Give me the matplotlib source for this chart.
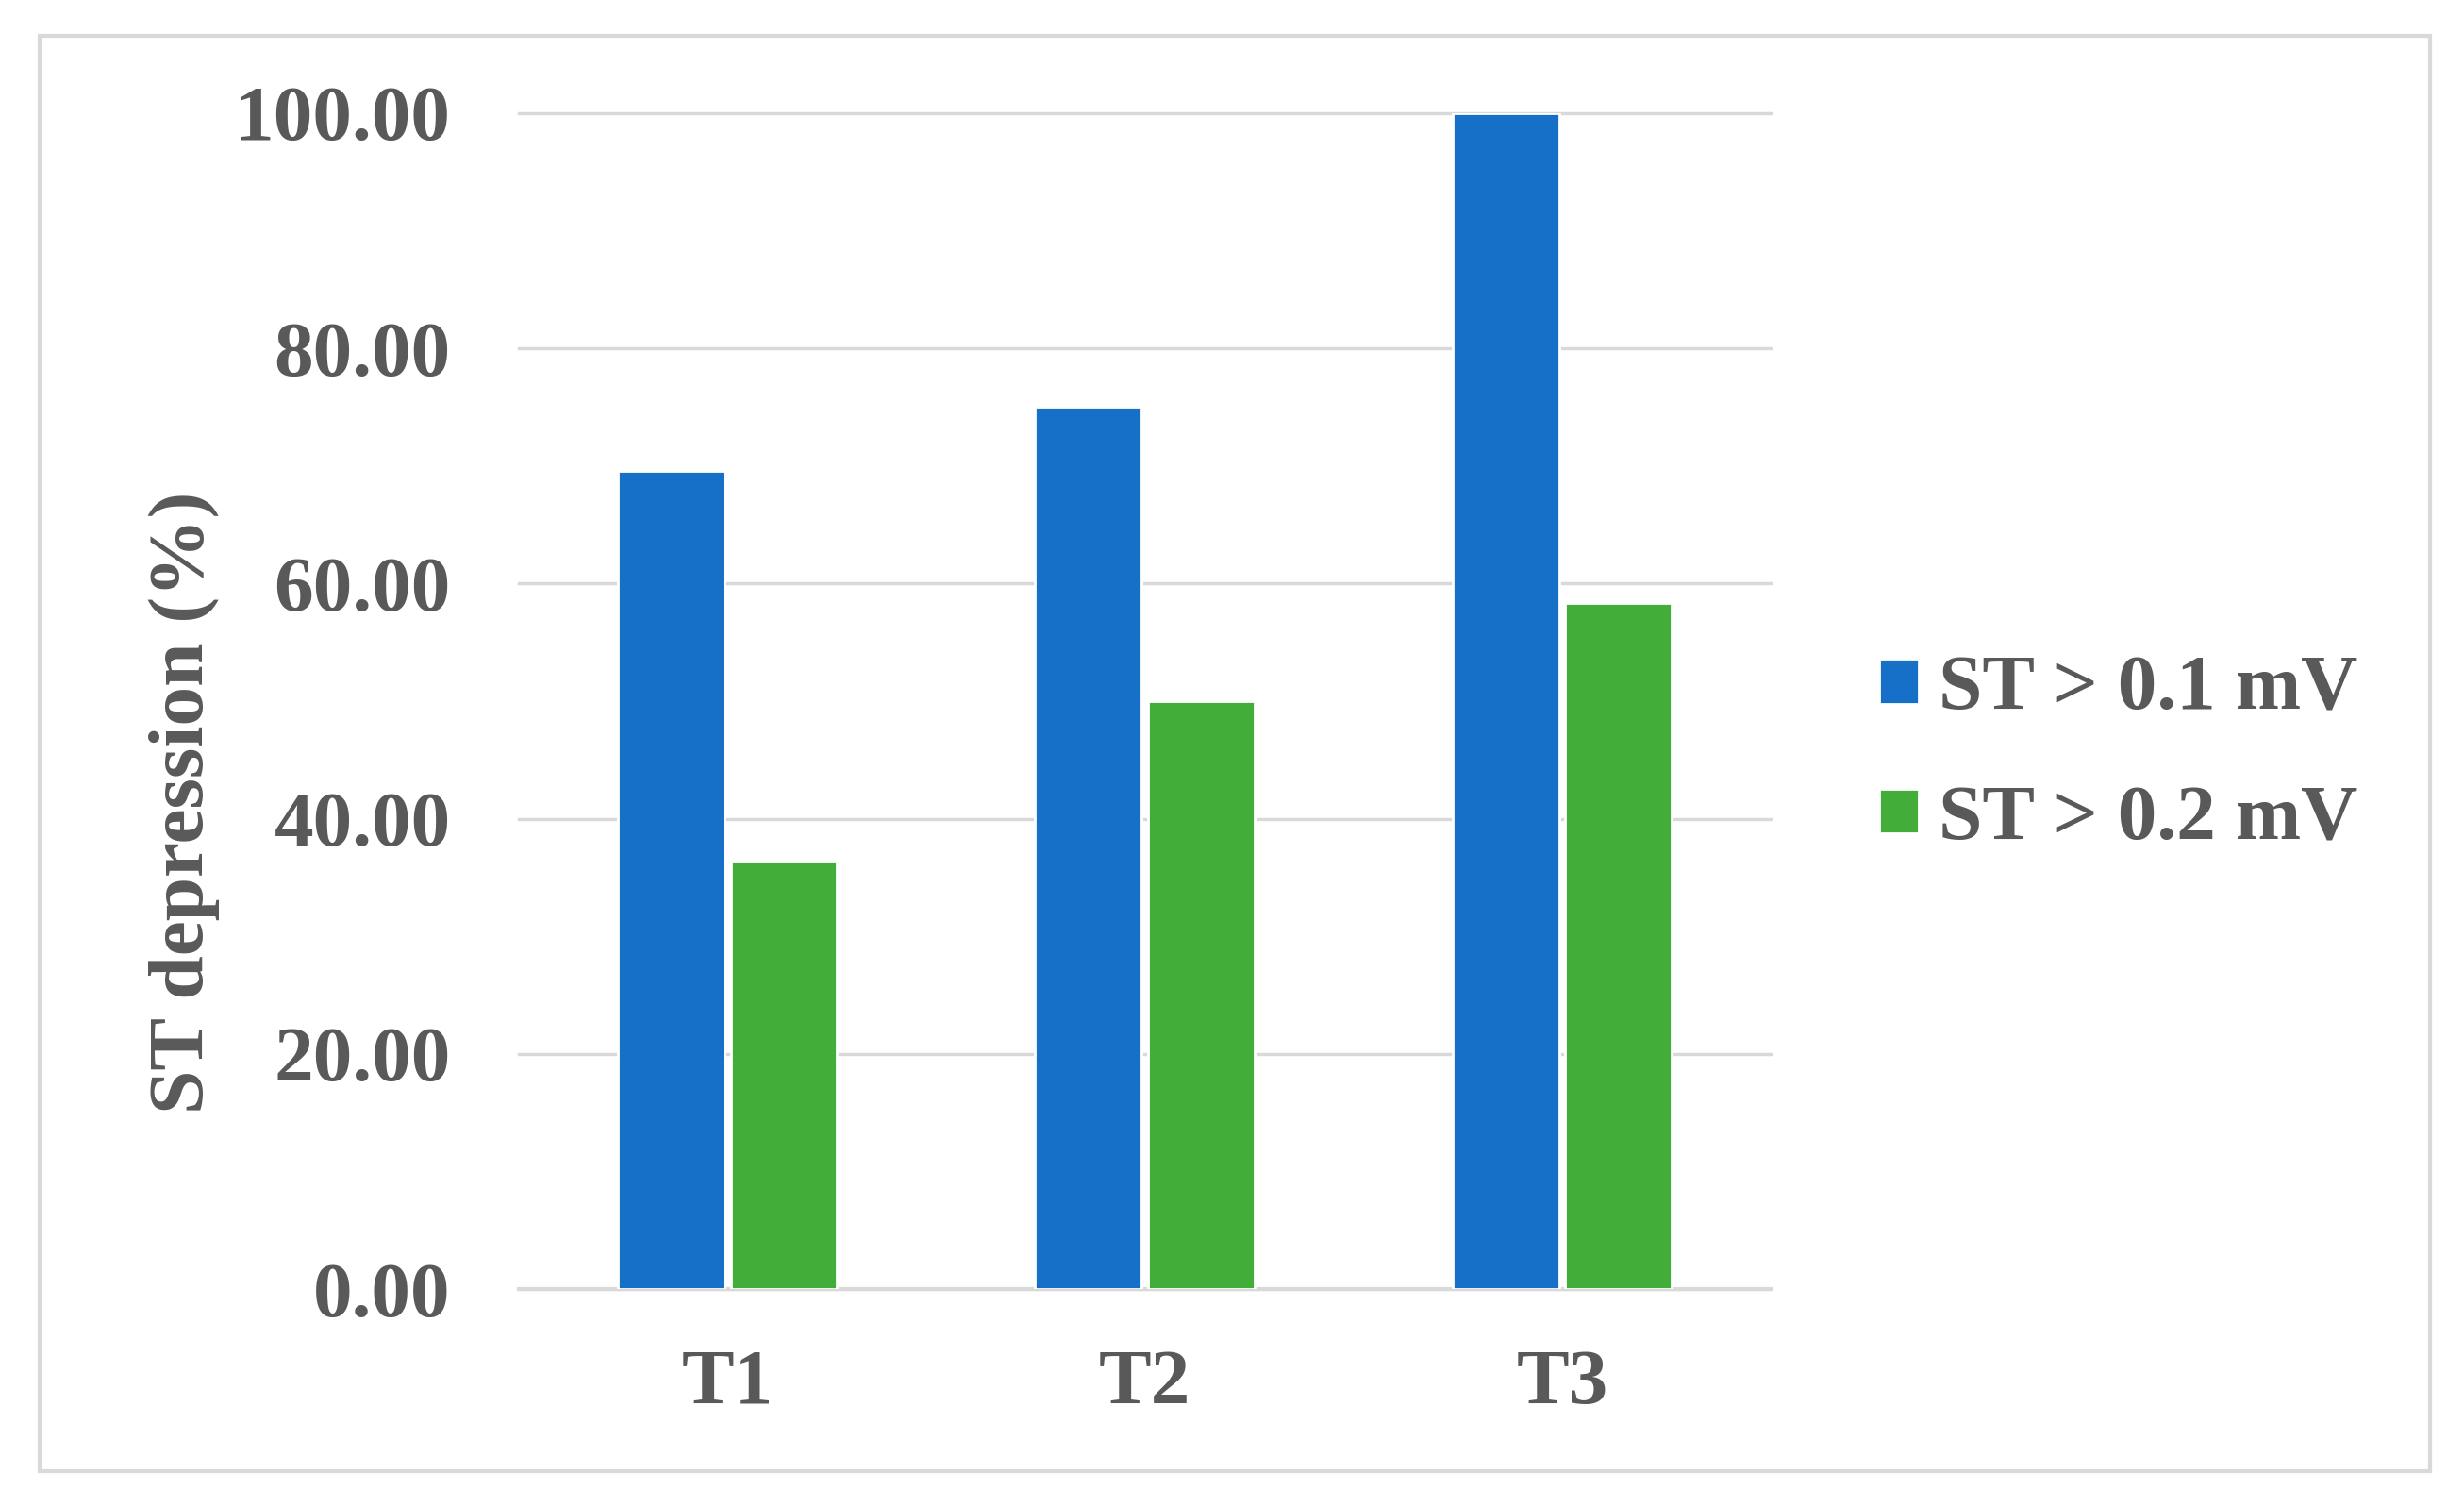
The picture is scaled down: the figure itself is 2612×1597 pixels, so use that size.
import numpy as np
import matplotlib.pyplot as plt
from matplotlib.patches import Rectangle

# data
groups = ['T1', 'T2', 'T3']
st_01 = [69.57, 75.00, 100.00]
st_02 = [36.36, 50.00, 58.33]
series_names = ['ST > 0.1 mV', 'ST > 0.2 mV']
yticks = [0, 20, 40, 60, 80, 100]

blue = '#1670c7'
green = '#43ad3a'
txt = '#595959'
gridc = '#d9d9d9'
fs = 60

plt.rcParams['font.family'] = ['Liberation Serif', 'DejaVu Serif']
plt.rcParams['font.weight'] = 'bold'

fig = plt.figure(figsize=(26.12, 15.97), dpi=100)
ax = fig.add_axes([0.2106, 0.1446, 0.508, 0.7803])

x = np.arange(len(groups))
w = 0.255
ax.bar(x - 0.135, st_01, w, color=blue, edgecolor='white', linewidth=2, label=series_names[0], zorder=3)
ax.bar(x + 0.135, st_02, w, color=green, edgecolor='white', linewidth=2, label=series_names[1], zorder=3)

ax.set_xlim(-0.5, 2.5)
ax.set_ylim(0, 100)
ax.set_yticks(yticks)
ax.set_yticklabels(['%.2f' % v for v in yticks])
ax.set_xticks(x)
ax.set_xticklabels(groups)
ax.tick_params(axis='y', length=0, pad=52, labelsize=fs, labelcolor=txt)
ax.tick_params(axis='x', length=0, pad=46, labelsize=fs, labelcolor=txt)
for lab in ax.get_xticklabels() + ax.get_yticklabels():
    lab.set_fontweight('bold')

ax.grid(axis='y', color=gridc, linewidth=2.5, zorder=0)
for gl in ax.get_ygridlines():
    gl.set_clip_on(False)
for s in ['top', 'right', 'left']:
    ax.spines[s].set_visible(False)
ax.spines['bottom'].set_color(gridc)
ax.spines['bottom'].set_linewidth(3)

ax.set_ylabel('ST depression (%)', fontsize=fs, color=txt, fontweight='bold')
ax.yaxis.set_label_coords(-0.239, 0.414)

leg = fig.legend(loc='center left', bbox_to_anchor=(0.734, 0.4985), frameon=False,
                 fontsize=fs, handlelength=0.5, handleheight=0.5, handletextpad=0.25,
                 labelspacing=0.75)
for t in leg.get_texts():
    t.set_color(txt)
    t.set_fontweight('bold')

# outer frame
fig.patches.append(Rectangle((42 / 2612, 38 / 1597), (2576 - 42) / 2612, (1559 - 38) / 1597,
                             transform=fig.transFigure, fill=False, edgecolor=gridc, linewidth=3))

fig.savefig('out.png', dpi=100)
